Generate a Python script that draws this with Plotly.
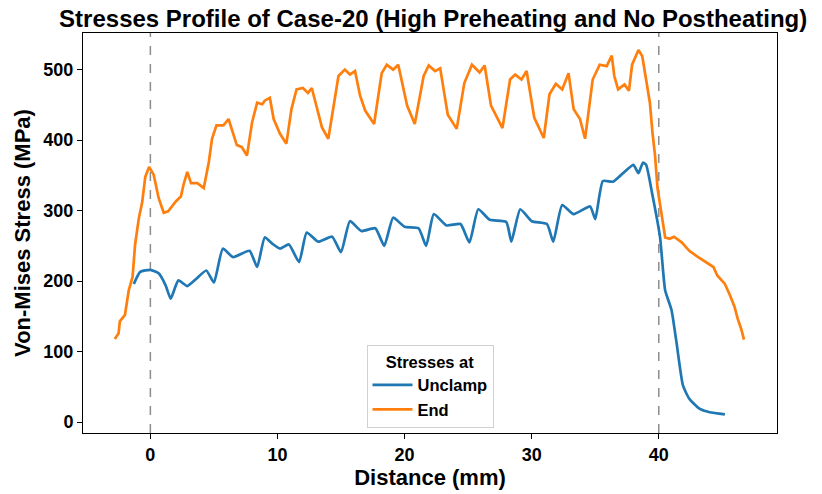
import plotly.graph_objects as go

# Unclamp series
unclamp_x = [-1.3, -0.8, 0, 0.65, 1.2, 1.6, 2.2, 2.9, 3.6, 4.4, 5.0, 5.7, 6.5, 7.8, 8.4, 9.0, 9.6, 10.2,
             10.9, 11.7, 12.3, 13.2, 14.3, 15.0, 15.7, 16.6, 17.7, 18.4, 19.1, 20.0, 21.1, 21.7, 22.3,
             23.3, 24.4, 25.1, 25.8, 26.7, 28.0, 28.4, 29.1, 30.0, 31.2, 31.7, 32.4, 33.3, 34.6, 35.0,
             35.6, 36.4, 37.0, 38.0, 38.4, 38.75, 39.0, 39.5, 40.1, 40.5, 41.0, 41.4, 41.9, 42.4, 43.2,
             44.0, 45.2]
unclamp_y = [196, 213, 216, 211, 194, 175, 201, 193, 203, 215, 198, 246, 234, 243, 220, 262, 253, 246,
             252, 227, 269, 256, 263, 241, 285, 271, 275, 250, 290, 277, 275, 250, 295,
             279, 281, 255, 302, 287, 284, 256, 302, 285, 281, 256, 308, 295, 306, 288,
             342, 341, 350, 365, 353, 368, 365, 322, 262, 187, 159, 112, 52, 33, 19,
             14, 11]

# End series
end_x = [-2.8, -2.5, -2.4, -2.0, -1.7, -1.4, -1.2, -0.9, -0.65, -0.4, -0.1, 0.26, 0.65, 1.05, 1.4, 2.0,
         2.4, 2.6, 2.9, 3.2, 3.7, 4.2, 4.6, 4.85, 5.2, 5.75, 6.15, 6.4, 6.8, 7.2, 7.6, 8.0, 8.4, 8.8,
         9.0, 9.4, 9.7, 10.2, 10.7, 11.1, 11.5, 12.0, 12.4, 12.7, 13.1, 13.5, 14.0, 14.4, 14.8, 15.3,
         15.7, 16.1, 16.5, 16.9, 17.6, 18.2, 18.6, 19.1, 19.5, 20.2, 20.8, 21.5, 21.9, 22.4, 22.8,
         23.4, 24.1, 24.7, 25.3, 25.9, 26.3, 26.8, 27.7, 28.3, 28.7, 29.2, 29.6, 30.2, 30.95, 31.4,
         31.9, 32.4, 32.9, 33.3, 33.8, 34.2, 34.8, 35.35, 35.9, 36.3, 36.5, 36.8, 37.3, 37.65, 37.9,
         38.4, 38.7, 39.0, 39.3, 39.5, 39.7, 39.9, 40.2, 40.5, 40.85, 41.2, 41.8, 42.4, 43.1, 43.7,
         44.3, 44.6, 45.2, 45.6, 45.95, 46.2, 46.5, 46.7]
end_y = [118, 126, 143, 152, 187, 206, 252, 290, 311, 348, 362, 351, 318, 297, 299, 313,
         320, 336, 355, 339, 339, 332, 369, 402, 421, 421, 430, 416, 393, 390, 378, 425, 453, 451,
         456, 460, 430, 409, 395, 444, 472, 474, 467, 474, 444, 418, 402, 449, 491, 500,
         493, 498, 463, 442, 423, 495, 507, 500, 507, 449, 423, 491, 506, 498, 502,
         436, 416, 481, 507, 496, 506, 449, 417, 486, 493, 486, 498, 432, 403, 465,
         480, 472, 495, 444, 430, 402, 486, 507, 505, 520, 491, 472, 479, 470, 507,
         528, 519, 486, 453, 411, 379, 332, 299, 262, 260, 263, 255, 243, 234, 227,
         220, 208, 196, 180, 164, 147, 131, 117]

vlines = [0, 40]
x_ticks = [0, 10, 20, 30, 40]
y_ticks = [0, 100, 200, 300, 400, 500]

FONT = "Liberation Sans, Arial, sans-serif"

fig = go.Figure()
fig.add_trace(go.Scatter(x=unclamp_x, y=unclamp_y, mode="lines", name="<b>Unclamp</b>",
                         line=dict(color="#1f77b4", width=2.7, shape="spline", smoothing=0.5)))
fig.add_trace(go.Scatter(x=end_x, y=end_y, mode="lines", name="<b>End</b>",
                         line=dict(color="#ff7f0e", width=2.7)))

for v in vlines:
    fig.add_vline(x=v, line=dict(color="#8c8c8c", width=1.5, dash="dash"), layer="below")

fig.update_layout(
    width=822, height=494,
    margin=dict(l=83, r=45, t=33, b=56),
    paper_bgcolor="white", plot_bgcolor="white",
    font=dict(family=FONT, color="black"),
    title=dict(text="<b>Stresses Profile of Case-20 (High Preheating and No Postheating)</b>",
               x=0.527, xanchor="center", y=0.962, yanchor="middle",
               font=dict(size=24, family=FONT, color="black")),
    legend=dict(
        title=dict(text="<b>Stresses at</b>", side="top center", font=dict(size=16.5, family=FONT)),
        font=dict(size=16.5, family=FONT),
        x=0.5, xanchor="center", y=0.012, yanchor="bottom",
        bgcolor="white", bordercolor="#d0d0d0", borderwidth=1,
        itemwidth=40, tracegroupgap=0,
    ),
    showlegend=True,
)

fig.update_xaxes(
    range=[-5.3, 49.3], tickvals=x_ticks, ticktext=[f"<b>{t}</b>" for t in x_ticks],
    showgrid=False, zeroline=False, showline=True, linecolor="black", linewidth=1, mirror=True,
    ticks="outside", ticklen=5, tickcolor="black", tickfont=dict(size=18, family=FONT),
    title=dict(text="<b>Distance (mm)</b>", font=dict(size=22, family=FONT), standoff=2),
)
fig.update_yaxes(
    range=[-15.5, 552], tickvals=y_ticks, ticktext=[f"<b>{t}</b>" for t in y_ticks],
    showgrid=False, zeroline=False, showline=True, linecolor="black", linewidth=1, mirror=True,
    ticks="outside", ticklen=5, tickcolor="black", tickfont=dict(size=18, family=FONT),
    title=dict(text="<b>Von-Mises Stress (MPa)</b>", font=dict(size=22, family=FONT), standoff=6),
)

fig.write_html("out.html")
